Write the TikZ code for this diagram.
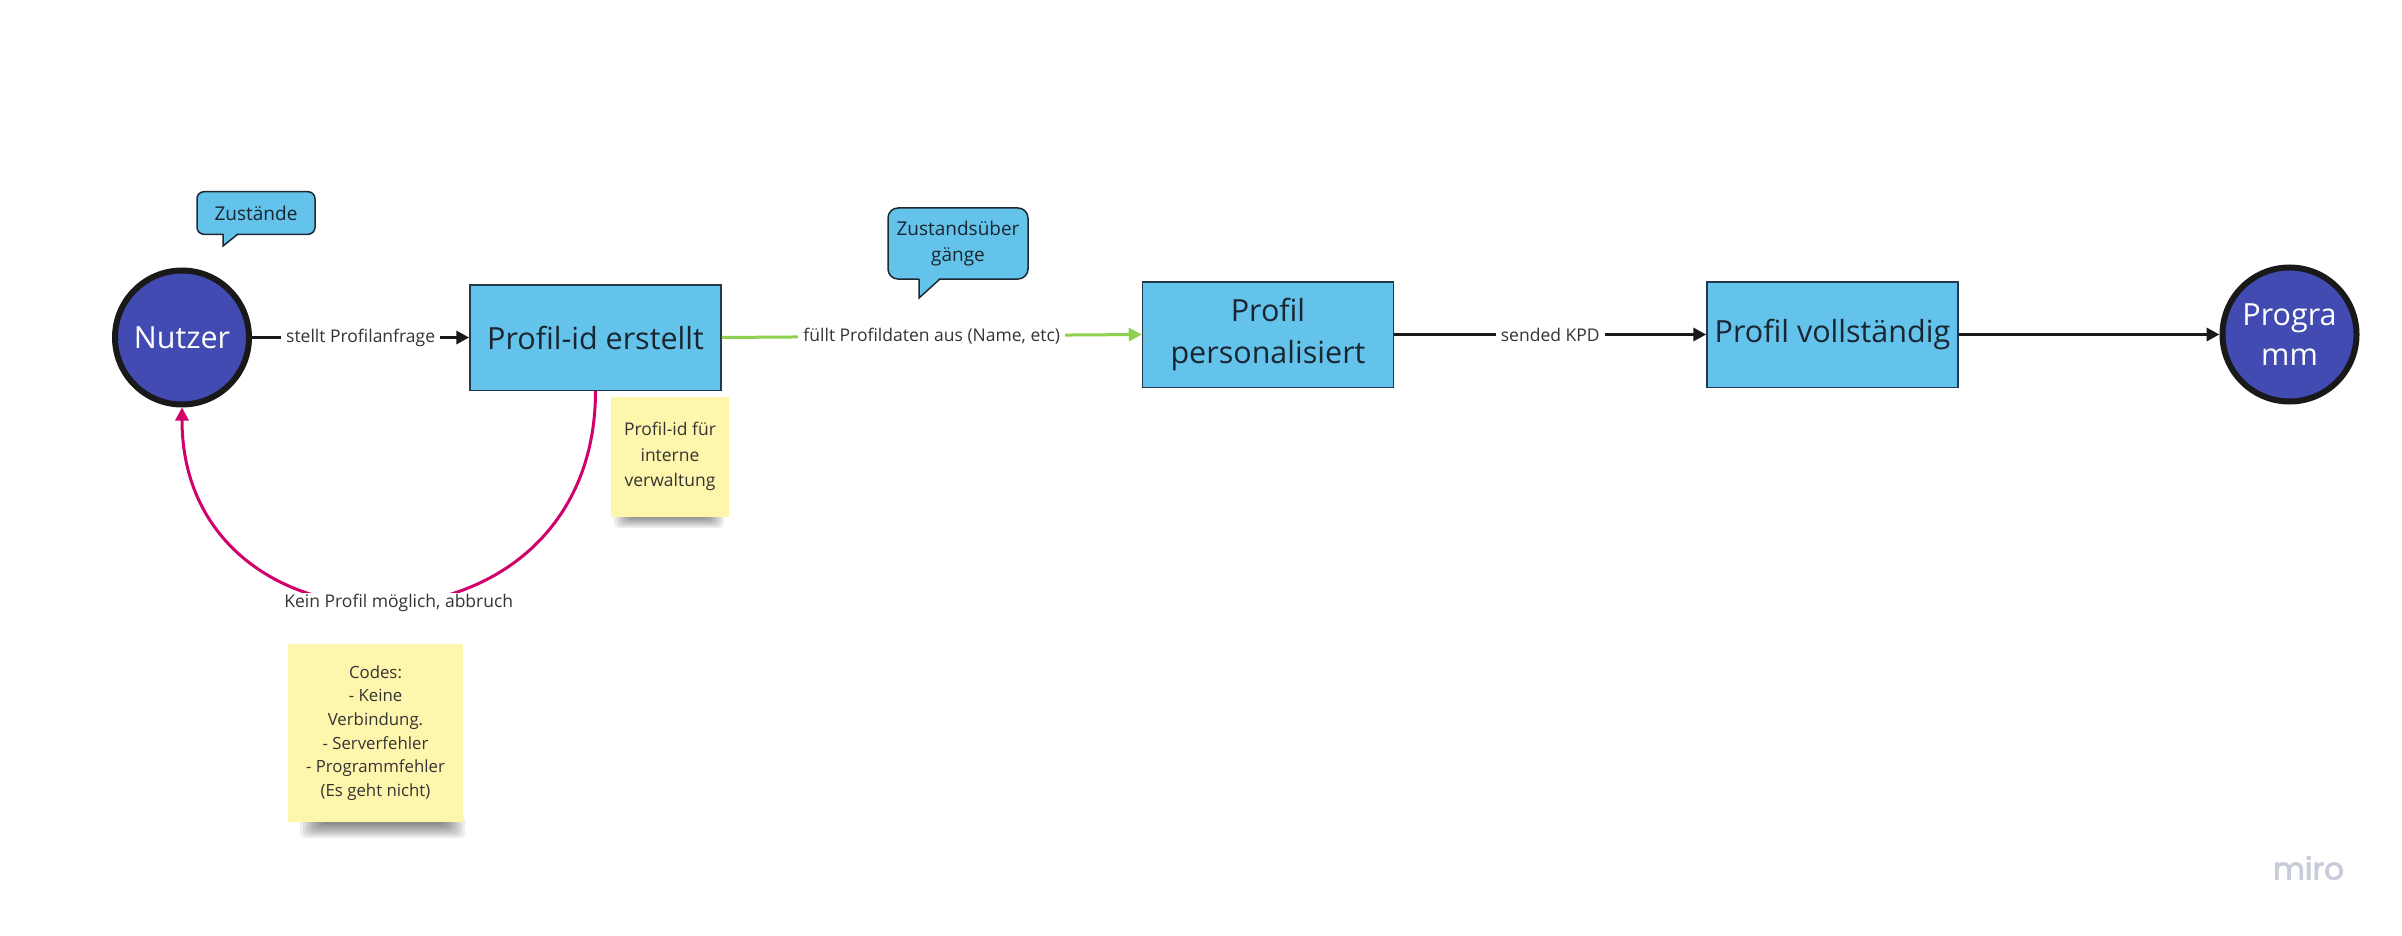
\documentclass[tikz,border=0pt]{standalone}
\usepackage{fontspec}
\setmainfont{Open Sans}
\newfontfamily\mirofont{Poppins}[FakeBold=2.5]
\usetikzlibrary{arrows.meta}
\definecolor{boxblue}{HTML}{63C3EB}
\definecolor{boxborder}{HTML}{23384A}
\definecolor{boxtext}{HTML}{1A2530}
\definecolor{termblue}{HTML}{414BB2}
\definecolor{labeltext}{HTML}{333333}
\definecolor{bubbleborder}{HTML}{1E2A33}
\definecolor{stickyyellow}{HTML}{FFF6AE}
\definecolor{pinkline}{HTML}{D1006A}
\definecolor{flowgreen}{HTML}{8FD14F}
\definecolor{mirogray}{HTML}{C8CBDA}
\begin{document}
\begin{tikzpicture}[x=1pt,y=-1pt,
  statebox/.style={draw=boxborder, line width=1.5pt, fill=boxblue, minimum width=251pt, minimum height=105.5pt, inner sep=0pt, text=boxtext, font=\fontsize{30.5}{42}\selectfont, align=center},
  termcircle/.style={circle, draw=black!90, line width=6pt, fill=termblue, minimum size=134pt, inner sep=0pt, text=white, font=\fontsize{30.5}{40}\selectfont, align=center},
  flow/.style={line width=3.2pt, draw=black!90, -{Triangle[length=13pt,width=13pt]}},
  greenflow/.style={line width=3pt, draw=flowgreen, -{Triangle[length=13pt,width=13pt]}},
  pinkflow/.style={line width=3pt, draw=pinkline, -{Triangle[length=13pt,width=13pt]}},
  lbl/.style={fill=white, inner xsep=5pt, inner ysep=1pt, text=labeltext, font=\fontsize{17.5}{21}\selectfont},
  bubble/.style={draw=bubbleborder, line width=1.5pt, fill=boxblue, inner sep=0pt, align=center, text=boxtext, font=\fontsize{19}{26}\selectfont},
  tailedge/.style={draw=bubbleborder, line width=1.5pt, line join=miter},
  sticky/.style={fill=stickyyellow, inner sep=0pt, align=center, text=labeltext},
  softshadow/.style={fill=black, opacity=0.07, rounded corners=5pt},
]
\useasboundingbox (0,0) rectangle (2402,936);
\fill[white] (0,0) rectangle (2402,936);

% speech bubbles
\node[bubble, rounded corners=7pt, minimum width=118pt, minimum height=42.6pt] (zst) at (256,213) {Zustände};
\fill[boxblue] (223,232.6) -- (238,232.6) -- (223,246) -- cycle;
\draw[tailedge] (238,234) -- (223,246) -- (223,234);

\node[bubble, rounded corners=10pt, minimum width=140pt, minimum height=71pt] (zsu) at (958,243.5) {Zustandsüber\\gänge};
\fill[boxblue] (919,277.6) -- (940,277.6) -- (919,298) -- cycle;
\draw[tailedge] (940,279) -- (919,298) -- (919,279);

% sticky note shadows (soft)
\foreach \k in {0,...,7} {
  \fill[softshadow] (614+\k*2.5,508) rectangle (724-\k*2.5,528-\k*1.6);
  \fill[softshadow] (300+\k*3,815) rectangle (465-\k*3,838-\k*2);
}

% sticky notes
\node[sticky, minimum width=118pt, minimum height=120pt, font=\fontsize{17.5}{25.5}\selectfont] (note1) at (670,456.5) {Profil-id für\\interne\\verwaltung};
\node[sticky, minimum width=175pt, minimum height=178pt, font=\fontsize{16.8}{23.6}\selectfont] (note2) at (375.5,733) {Codes:\\- Keine\\Verbindung.\\- Serverfehler\\- Programmfehler\\(Es geht nicht)};

% states
\node[termcircle] (nutzer) at (182,337.5) {Nutzer};
\node[statebox] (pid) at (595.5,337.5) {Profil-id erstellt};
\node[statebox] (ppers) at (1268,334.5) {Profil\\personalisiert};
\node[statebox] (pvoll) at (1832.5,334.5) {Profil vollständig};
\node[termcircle] (prog) at (2289.5,334.5) {Progra\\mm};

% transitions
\draw[flow] (nutzer.east) -- (pid.west) node[lbl, midway] {stellt Profilanfrage};
\draw[greenflow] (pid.east) -- (ppers.west) node[lbl, midway] {füllt Profildaten aus (Name, etc)};
\draw[flow] (ppers.east) -- (pvoll.west) node[lbl, midway] {sended KPD};
\draw[flow] (pvoll.east) -- (prog.west);
\draw[pinkflow] (pid.south) .. controls +(0,280) and +(0,263.5) .. (nutzer.south)
  node[lbl, pos=0.5, xshift=10pt] {Kein Profil möglich, abbruch};

% logo
\node[text=mirogray, font=\mirofont\fontsize{31}{31}\selectfont] (logo) at (2308.5,868) {miro};
\end{tikzpicture}
\end{document}
